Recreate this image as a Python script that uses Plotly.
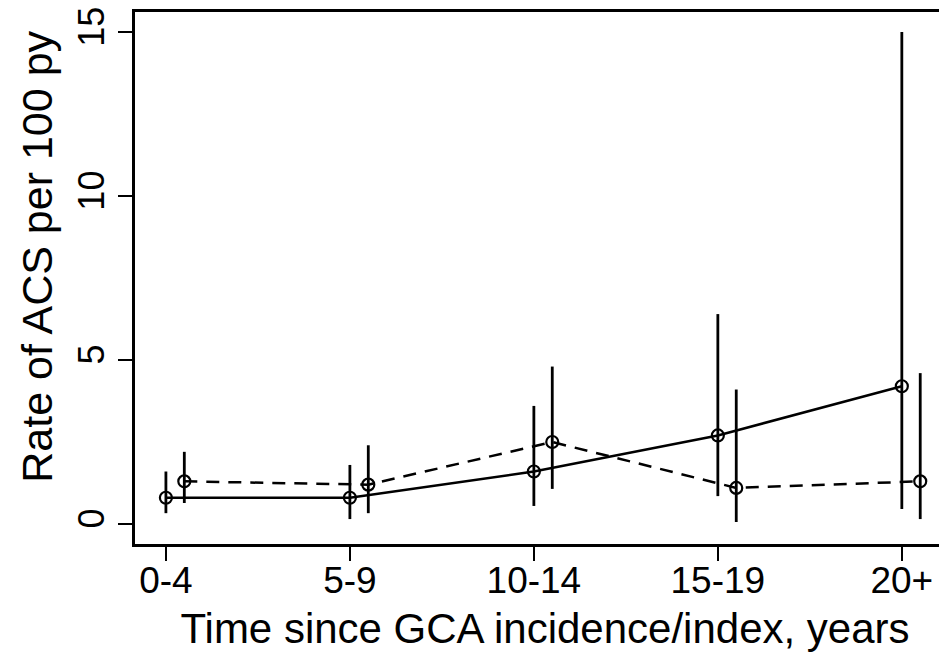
import numpy as np
import plotly.graph_objects as go

# Categories on the x axis
periods = ["0-4", "5-9", "10-14", "15-19", "20+"]
pos = np.arange(1, 6)

# Solid series: rate and 95% CI
rate_a = [0.8, 0.8, 1.6, 2.7, 4.2]
lo_a = [0.33, 0.15, 0.55, 0.85, 0.46]
hi_a = [1.6, 1.8, 3.6, 6.4, 15.0]

# Dashed series: rate and 95% CI (drawn slightly offset to the right)
rate_b = [1.3, 1.2, 2.5, 1.1, 1.3]
lo_b = [0.64, 0.33, 1.07, 0.06, 0.15]
hi_b = [2.2, 2.4, 4.8, 4.1, 4.6]
offset = 0.1

font = "Liberation Sans, Arial, sans-serif"


def series(x, rate, lo, hi, dash):
    rate = np.array(rate)
    return go.Scatter(
        x=x, y=rate, mode="lines+markers",
        line=dict(color="black", width=2.5, dash=dash),
        marker=dict(symbol="circle-open", size=12, color="black", line=dict(width=2.2)),
        error_y=dict(type="data", symmetric=False,
                     array=np.array(hi) - rate, arrayminus=rate - np.array(lo),
                     color="black", thickness=2.8, width=0),
        showlegend=False,
    )


fig = go.Figure()
fig.add_trace(series(pos, rate_a, lo_a, hi_a, "solid"))
fig.add_trace(series(pos + offset, rate_b, lo_b, hi_b, "13px,9px"))

# the page body adds an 8px margin, so the figure sits 8px right and down
fig.update_layout(
    width=947, height=665,
    margin=dict(l=127, r=0, t=4, b=129),
    paper_bgcolor="white", plot_bgcolor="white",
    font=dict(family=font, size=36, color="black"),
)
fig.update_xaxes(
    range=[0.832, 5.289], tickvals=list(pos), ticktext=periods,
    tickfont=dict(size=37), automargin=False, ticklabelstandoff=-12,
    showgrid=False, zeroline=False,
    showline=True, linecolor="black", linewidth=2.5, mirror=True,
    ticks="outside", ticklen=14, tickwidth=1.5, tickcolor="black",
    title=dict(text="Time since GCA incidence/index, years", standoff=14,
               font=dict(size=42)),
)
fig.update_yaxes(
    range=[-0.61, 15.61], tickvals=[0, 5, 10, 15], tickangle=-90,
    tickfont=dict(size=36), automargin=False, ticklabeloverflow="allow",
    showgrid=False, zeroline=False,
    showline=True, linecolor="black", linewidth=2.5, mirror=False,
    ticks="outside", ticklen=14, tickwidth=1.5, tickcolor="black",
)
# y title sits a little above the middle of the axis in the source
fig.add_annotation(
    text="Rate of ACS per 100 py", textangle=-90, showarrow=False,
    xref="paper", yref="paper", x=-0.1195, y=0.54,
    xanchor="center", yanchor="middle", font=dict(size=43),
)

fig.write_html("out.html")
